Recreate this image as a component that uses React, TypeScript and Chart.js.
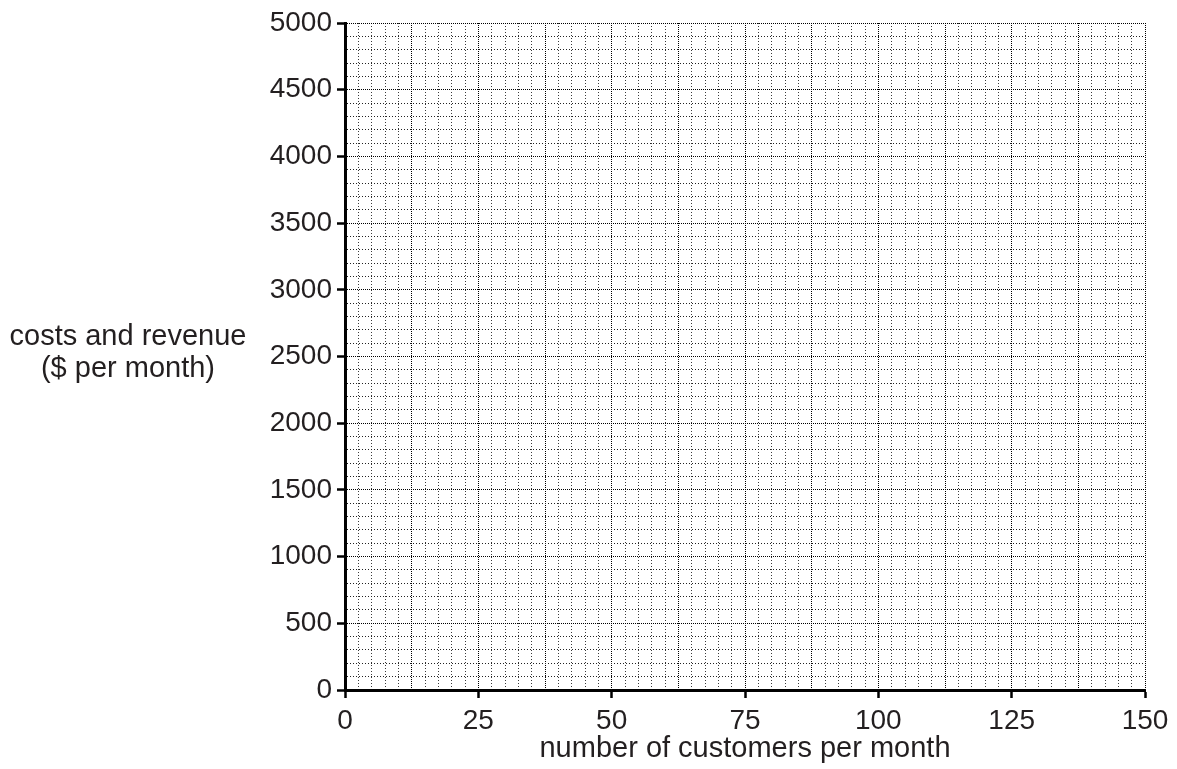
import React, { useEffect, useRef } from 'react';
import { Chart, registerables } from 'chart.js';

Chart.register(...registerables);

// axis values (the grid is empty, no series plotted)
const xTickLabels = [0, 25, 50, 75, 100, 125, 150];
const yTickLabels = [0, 500, 1000, 1500, 2000, 2500, 3000, 3500, 4000, 4500, 5000];
const xMinorStep = 2.5;
const xMidStep = 12.5;
const yMinorStep = 100;

const xTitle = 'number of customers per month';
const yTitleLines = ['costs and revenue', '($ per month)'];

const FONT = '"Liberation Sans", Arial, Helvetica, sans-serif';
const TEXT = '#231f20';

const onStep = (v: number, step: number) => Math.abs(v / step - Math.round(v / step)) < 1e-6;

export default function App() {
  const canvasRef = useRef<HTMLCanvasElement>(null);
  const chartRef = useRef<Chart | null>(null);

  useEffect(() => {
    if (!canvasRef.current) return;
    if (chartRef.current) chartRef.current.destroy();

    const xMajor = xTickLabels[1] - xTickLabels[0];
    const yMajor = yTickLabels[1] - yTickLabels[0];

    chartRef.current = new Chart(canvasRef.current, {
      type: 'scatter',
      data: { datasets: [{ label: 'empty', data: [] }] },
      options: {
        responsive: true,
        maintainAspectRatio: false,
        animation: false,
        layout: { padding: { left: 0, right: 32, top: 23, bottom: 0 } },
        plugins: {
          legend: { display: false },
          tooltip: { enabled: false },
        },
        scales: {
          x: {
            type: 'linear',
            min: xTickLabels[0],
            max: xTickLabels[xTickLabels.length - 1],
            afterFit: (s: any) => { s.height = 79; },
            ticks: {
              stepSize: xMinorStep,
              autoSkip: false,
              maxRotation: 0,
              minRotation: 0,
              padding: 6,
              color: TEXT,
              font: { family: FONT, size: 28 },
              callback: (v: any) => (xTickLabels.some(t => Math.abs(t - v) < 1e-6) ? String(Math.round(v)) : ''),
            },
            grid: {
              color: (c: any) => (onStep(c.tick.value, xMidStep) ? '#000' : '#3a3a3a'),
              lineWidth: 1,
              drawTicks: true,
              tickLength: 8,
              tickWidth: (c: any) => (onStep(c.tick.value, xMajor) ? 2.5 : 0),
              tickColor: '#000',
              tickBorderDash: [],
            },
            border: {
              display: true,
              color: '#000',
              width: 3,
              dash: (c: any) => (c.tick && onStep(c.tick.value, xMidStep) ? [1, 1] : [1, 2]),
            },
            title: {
              display: true,
              text: xTitle,
              color: TEXT,
              font: { family: FONT, size: 29 },
              padding: { top: 0, bottom: 3 },
            },
          },
          y: {
            type: 'linear',
            min: yTickLabels[0],
            max: yTickLabels[yTickLabels.length - 1],
            afterFit: (s: any) => { s.width = 345; },
            ticks: {
              stepSize: yMinorStep,
              autoSkip: false,
              padding: 5,
              color: TEXT,
              font: { family: FONT, size: 28 },
              callback: (v: any) => (yTickLabels.includes(v) ? String(v) : ''),
            },
            grid: {
              color: (c: any) => (onStep(c.tick.value, yMajor) ? '#000' : '#222'),
              lineWidth: 1,
              drawTicks: true,
              tickLength: 8,
              tickWidth: (c: any) => (onStep(c.tick.value, yMajor) ? 2.5 : 0),
              tickColor: '#000',
              tickBorderDash: [],
            },
            border: {
              display: true,
              color: '#000',
              width: 3,
              dash: (c: any) => (c.tick && onStep(c.tick.value, yMajor) ? [1, 1] : [1, 2]),
            },
          },
        },
      },
    });

    return () => {
      if (chartRef.current) {
        chartRef.current.destroy();
        chartRef.current = null;
      }
    };
  }, []);

  return (
    <div style={{ position: 'absolute', left: 0, top: 0, width: 1177, height: 769, background: '#fff' }}>
      <canvas ref={canvasRef}></canvas>
      <div
        style={{
          position: 'absolute',
          left: 0,
          top: 319,
          width: 256,
          textAlign: 'center',
          fontFamily: FONT,
          fontSize: 29,
          lineHeight: '32px',
          color: TEXT,
          whiteSpace: 'nowrap',
        }}
      >
        {yTitleLines.map(l => (
          <div key={l}>{l}</div>
        ))}
      </div>
    </div>
  );
}
